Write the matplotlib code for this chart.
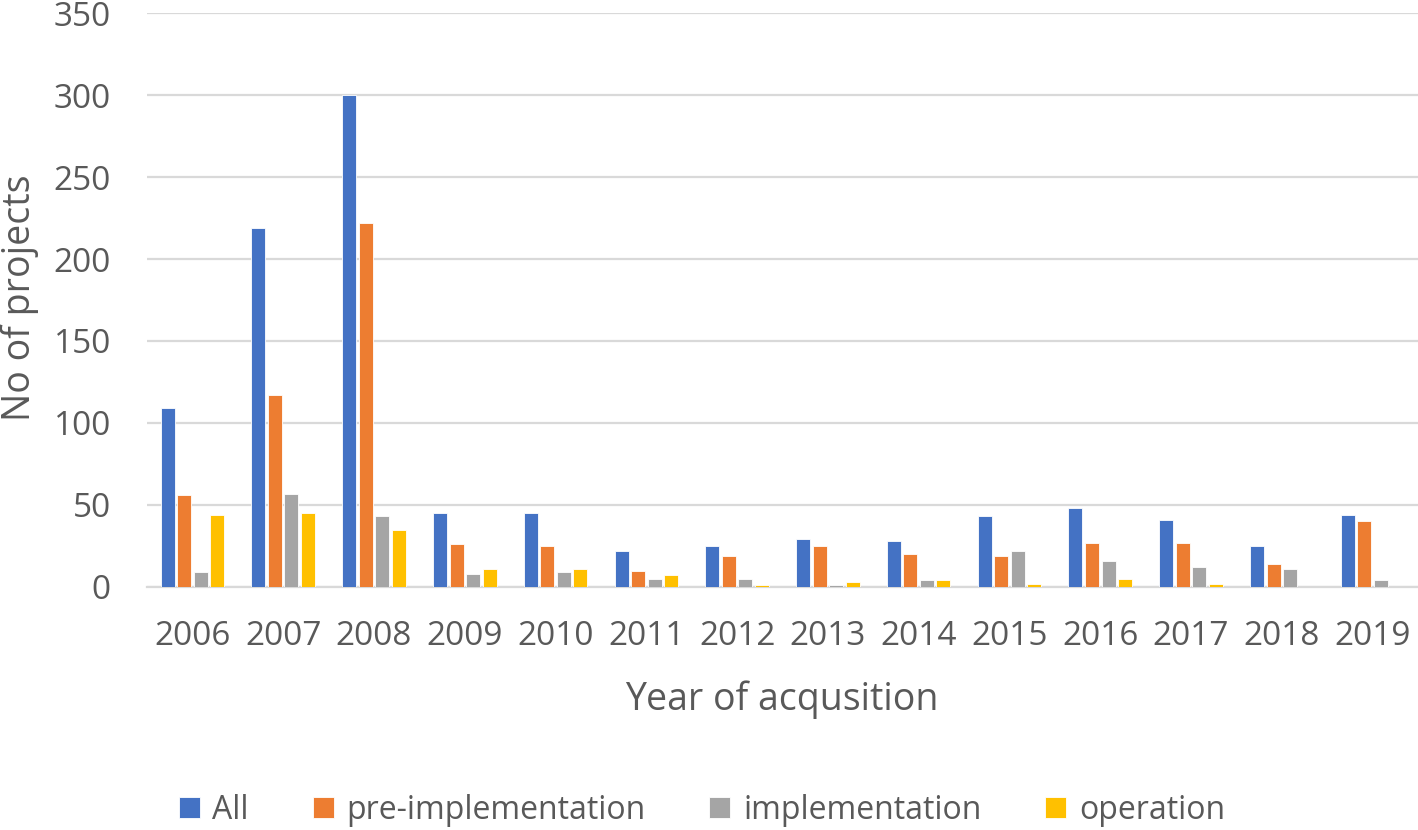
import matplotlib
matplotlib.use("Agg")
import matplotlib.pyplot as plt
import numpy as np

years = ["2006", "2007", "2008", "2009", "2010", "2011", "2012",
         "2013", "2014", "2015", "2016", "2017", "2018", "2019"]
all_vals = [109, 219, 300, 45, 45, 22, 25, 29, 28, 43, 48, 41, 25, 44]
pre_impl = [56, 117, 222, 26, 25, 10, 19, 25, 20, 19, 27, 27, 14, 40]
impl = [9, 57, 43, 8, 9, 5, 5, 1, 4, 22, 16, 12, 11, 4]
operation = [44, 45, 35, 11, 11, 7, 1, 3, 4, 2, 5, 2, 0, 0]

series = [("All", all_vals, "#4472C4"),
          ("pre-implementation", pre_impl, "#ED7D31"),
          ("implementation", impl, "#A5A5A5"),
          ("operation", operation, "#FFC000")]

plt.rcParams['font.family'] = ['Open Sans', 'DejaVu Sans']
text_color = "#595959"

fig = plt.figure(figsize=(14.18, 8.30), dpi=100)
ax = fig.add_axes([0.1037, 0.2928, 0.8963, 0.6915])

x = np.arange(len(years))
bw = 0.154
step = 0.182
for i, (name, vals, col) in enumerate(series):
    ax.bar(x + (i - 1.5) * step, vals, width=bw, color=col, label=name,
           edgecolor="white", linewidth=0.6, zorder=3)

ax.set_xlim(-0.5, len(years) - 0.5)
ax.set_ylim(0, 350)
ax.set_yticks(np.arange(0, 351, 50))
ax.set_xticks(x)
ax.set_xticklabels(years)
ax.grid(axis="y", color="#D9D9D9", linewidth=1.6, zorder=0)
ax.set_axisbelow(True)
for s in ["top", "right", "left"]:
    ax.spines[s].set_visible(False)
ax.spines["bottom"].set_color("#D9D9D9")
ax.spines["bottom"].set_linewidth(1.6)
ax.tick_params(axis="both", length=0, labelsize=24, colors=text_color)
ax.tick_params(axis="x", pad=24)
ax.tick_params(axis="y", pad=26)

fig.text(782 / 1418, 1 - 700 / 830, "Year of acqusition", fontsize=27,
         color=text_color, ha="center", va="center")
fig.text(20 / 1418, 1 - 298 / 830, "No of projects", fontsize=27,
         color=text_color, ha="center", va="center", rotation=90)

leg = fig.legend(loc="center", bbox_to_anchor=(0.495, 1 - 810 / 830), ncol=4,
                 frameon=False, fontsize=23, handlelength=0.65, handleheight=0.65,
                 columnspacing=2.0, handletextpad=0.4, labelcolor=text_color)

fig.savefig("out.png", dpi=100)
